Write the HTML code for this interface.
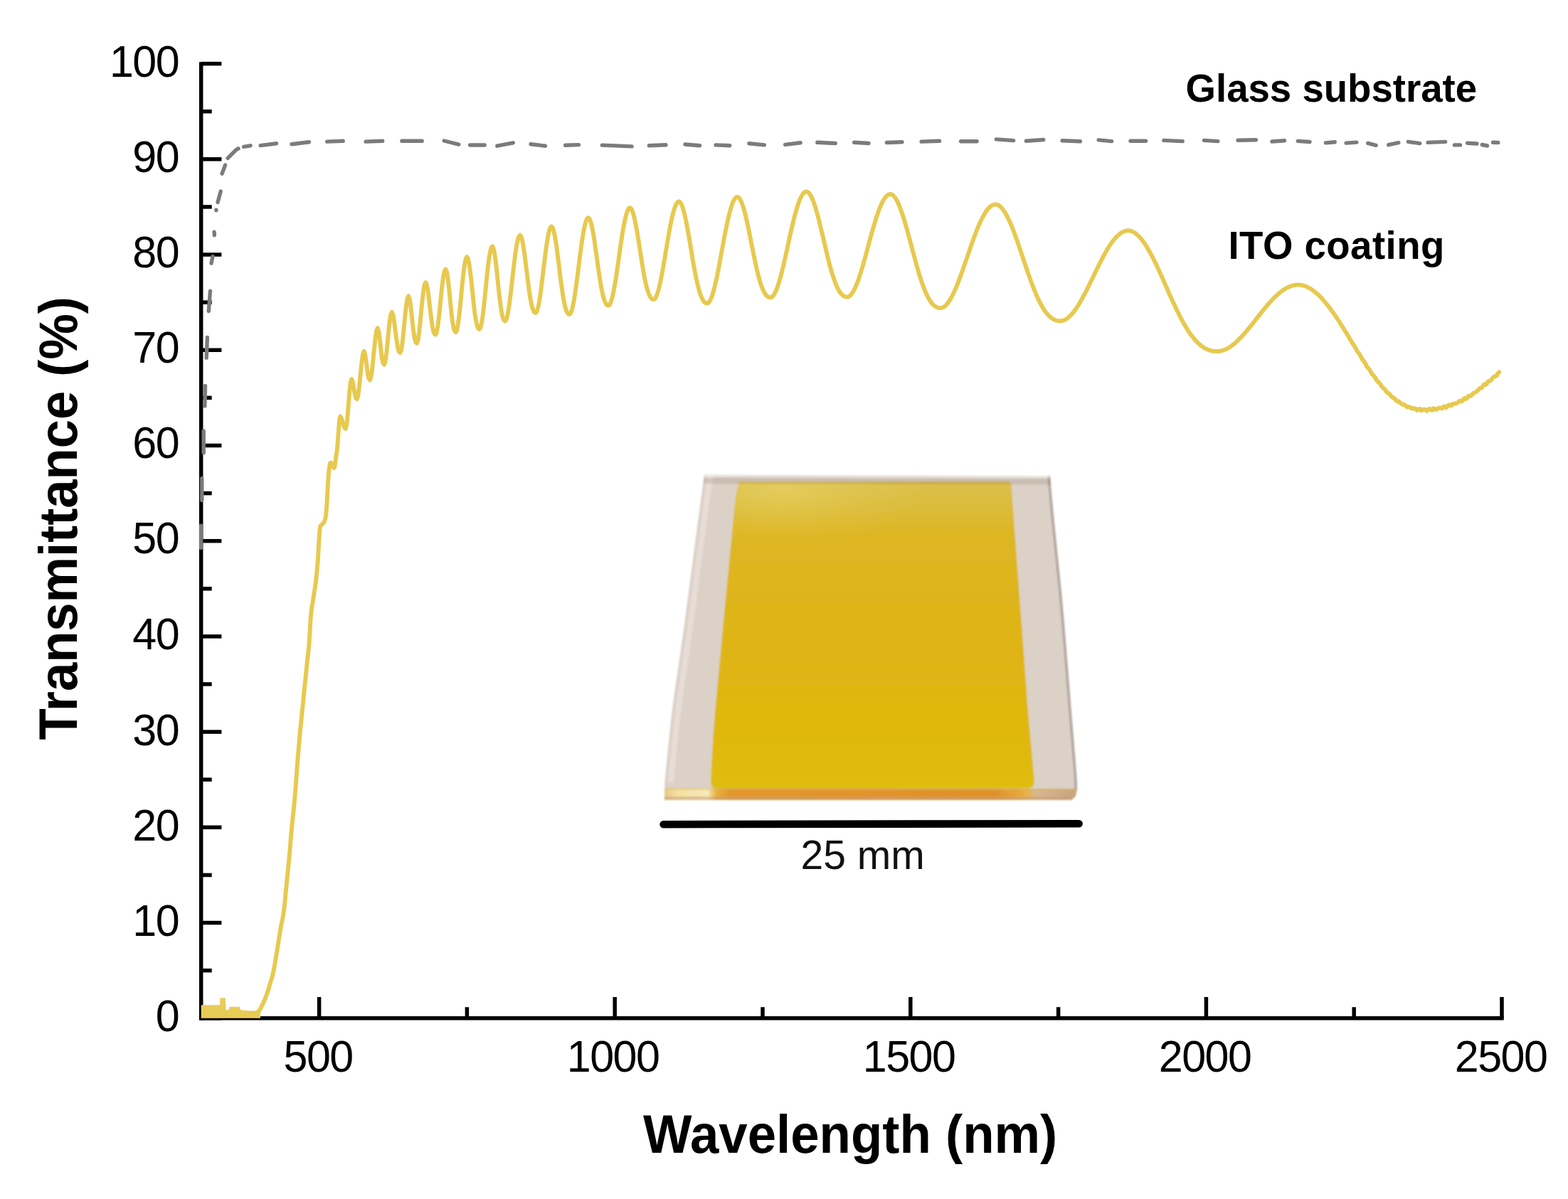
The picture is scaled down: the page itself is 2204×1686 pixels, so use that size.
<!DOCTYPE html>
<html><head><meta charset="utf-8"><style>
html,body{margin:0;padding:0;background:#fff;}
svg{display:block;}
text{font-family:"Liberation Sans",Arial,Helvetica,sans-serif;}
</style></head><body>
<svg width="2204" height="1686" viewBox="0 0 2204 1686">
<rect width="2204" height="1686" fill="#fff"/>

<defs>
 <filter id="soft" x="-5%" y="-5%" width="110%" height="110%"><feGaussianBlur stdDeviation="1.1"/></filter>
 <linearGradient id="yelV" x1="0" y1="682" x2="0" y2="1108" gradientUnits="userSpaceOnUse">
  <stop offset="0" stop-color="#dcc04c"/>
  <stop offset="0.05" stop-color="#dcbd40"/>
  <stop offset="0.16" stop-color="#deb624"/>
  <stop offset="0.5" stop-color="#dfb415"/>
  <stop offset="0.85" stop-color="#dfb80e"/>
  <stop offset="1" stop-color="#dfbd10"/>
 </linearGradient>
 <radialGradient id="glare" cx="1100" cy="690" r="200" gradientUnits="userSpaceOnUse" gradientTransform="translate(1100 690) scale(1 0.4) translate(-1100 -690)">
  <stop offset="0" stop-color="#f0e080" stop-opacity="0.35"/>
  <stop offset="0.6" stop-color="#f0e080" stop-opacity="0.1"/>
  <stop offset="1" stop-color="#f0e080" stop-opacity="0"/>
 </radialGradient>
 <linearGradient id="bot" x1="934" y1="0" x2="1514" y2="0" gradientUnits="userSpaceOnUse">
  <stop offset="0" stop-color="#e8c88a"/>
  <stop offset="0.03" stop-color="#f4e0a0"/>
  <stop offset="0.105" stop-color="#f6eab8"/>
  <stop offset="0.125" stop-color="#e8b040"/>
  <stop offset="0.16" stop-color="#e3962a"/>
  <stop offset="0.8" stop-color="#e19028"/>
  <stop offset="0.875" stop-color="#e8b040"/>
  <stop offset="0.9" stop-color="#d8b890"/>
  <stop offset="1" stop-color="#c9a27e"/>
 </linearGradient>
</defs>
<g filter="url(#soft)">
<polygon points="990.0,667.6 1476.6,669.4 1476.8,672.2 1477.0,675.7 1477.3,680.0 1477.7,685.4 1478.3,692.0 1479.0,700.0 1480.0,709.9 1481.1,721.7 1482.4,734.7 1483.8,748.4 1485.2,762.0 1486.5,775.0 1487.8,787.5 1489.0,800.0 1490.3,812.5 1491.6,825.0 1492.8,837.5 1494.0,850.0 1495.1,862.5 1496.2,875.0 1497.2,887.5 1498.3,900.0 1499.3,912.5 1500.3,925.0 1501.3,937.3 1502.3,949.4 1503.2,961.6 1504.2,973.9 1505.2,986.6 1506.3,1000.0 1507.5,1014.9 1508.9,1031.5 1510.3,1048.4 1511.6,1064.6 1512.8,1078.9 1513.6,1090.0 1514.1,1097.6 1514.3,1102.6 1514.4,1105.6 1514.4,1107.4 1514.3,1108.6 1514.3,1110.0 1511.5,1120.0 1506.0,1125.0 934.0,1125.0 933.8,1124.6 933.8,1122.0 933.9,1118.4 933.9,1114.2 934.0,1109.5 934.2,1104.7 934.4,1100.0 934.7,1095.8 935.0,1091.9 935.4,1087.8 935.9,1083.2 936.5,1077.4 937.3,1070.0 938.2,1060.7 939.3,1049.8 940.5,1037.8 941.8,1025.2 943.1,1012.4 944.6,1000.0 946.2,987.8 947.9,975.4 949.8,962.8 951.6,950.2 953.5,937.6 955.3,925.0 957.1,912.5 958.8,900.0 960.6,887.5 962.3,875.0 964.0,862.5 965.7,850.0 967.4,837.5 969.0,825.0 970.6,812.5 972.2,800.0 973.9,787.5 975.5,775.0 977.2,762.0 979.0,748.4 980.8,734.8 982.6,721.8 984.1,710.0 985.5,700.0 986.6,691.8 987.6,684.8 988.4,679.1 989.0,674.4 989.6,670.6 990.0,667.6" fill="#dbd1c7"/>
<polygon points="994.5,667.6 994.1,670.6 993.5,674.4 992.9,679.1 992.1,684.8 991.1,691.8 990.0,700.0 988.6,710.0 987.1,721.8 985.3,734.8 983.5,748.4 981.7,762.0 980.0,775.0 978.4,787.5 976.7,800.0 975.1,812.5 973.5,825.0 971.9,837.5 970.2,850.0 968.5,862.5 966.8,875.0 965.1,887.5 963.3,900.0 961.6,912.5 959.8,925.0 958.0,937.6 956.1,950.2 954.3,962.8 952.4,975.4 950.7,987.8 949.1,1000.0 947.6,1012.4 946.3,1025.2 945.0,1037.8 943.8,1049.8 942.7,1060.7 941.8,1070.0 941.0,1077.7 940.4,1084.1 939.9,1089.4 939.5,1093.7 939.2,1097.2 938.9,1100.0 946.9,1100.0 947.2,1097.2 947.5,1093.7 947.9,1089.4 948.4,1084.1 949.0,1077.7 949.8,1070.0 950.7,1060.7 951.8,1049.8 953.0,1037.8 954.3,1025.2 955.6,1012.4 957.1,1000.0 958.7,987.8 960.4,975.4 962.3,962.8 964.1,950.2 966.0,937.6 967.8,925.0 969.6,912.5 971.3,900.0 973.1,887.5 974.8,875.0 976.5,862.5 978.2,850.0 979.9,837.5 981.5,825.0 983.1,812.5 984.7,800.0 986.4,787.5 988.0,775.0 989.7,762.0 991.5,748.4 993.3,734.8 995.1,721.8 996.6,710.0 998.0,700.0 999.1,691.8 1000.1,684.8 1000.9,679.1 1001.5,674.4 1002.1,670.6 1002.5,667.6" fill="#e8ddd6"/>
<polygon points="1476.0,669.4 1476.2,672.2 1476.4,675.7 1476.7,680.0 1477.1,685.4 1477.7,692.0 1478.4,700.0 1479.4,709.9 1480.5,721.7 1481.8,734.7 1483.2,748.4 1484.6,762.0 1485.9,775.0 1487.2,787.5 1488.4,800.0 1489.7,812.5 1491.0,825.0 1492.2,837.5 1493.4,850.0 1494.5,862.5 1495.6,875.0 1496.6,887.5 1497.7,900.0 1498.7,912.5 1499.7,925.0 1500.7,937.3 1501.7,949.4 1502.6,961.6 1503.6,973.9 1504.6,986.6 1505.7,1000.0 1506.9,1014.9 1508.3,1031.5 1509.7,1048.4 1511.0,1064.6 1512.2,1078.9 1513.0,1090.0 1513.5,1097.6 1513.7,1102.6 1513.8,1105.6 1513.8,1107.4 1513.7,1108.6 1513.7,1110.0 1510.1,1110.0 1510.1,1108.6 1510.2,1107.4 1510.2,1105.6 1510.1,1102.6 1509.9,1097.6 1509.4,1090.0 1508.6,1078.9 1507.4,1064.6 1506.1,1048.4 1504.7,1031.5 1503.3,1014.9 1502.1,1000.0 1501.0,986.6 1500.0,973.9 1499.0,961.6 1498.1,949.4 1497.1,937.3 1496.1,925.0 1495.1,912.5 1494.1,900.0 1493.0,887.5 1492.0,875.0 1490.9,862.5 1489.8,850.0 1488.6,837.5 1487.4,825.0 1486.1,812.5 1484.8,800.0 1483.6,787.5 1482.3,775.0 1481.0,762.0 1479.6,748.4 1478.2,734.7 1476.9,721.7 1475.8,709.9 1474.8,700.0 1474.1,692.0 1473.5,685.4 1473.1,680.0 1472.8,675.7 1472.6,672.2 1472.4,669.4" fill="#b4a9a1"/>
<polygon points="1039.5,677.0 1418.5,677.0 1421.5,681.0 1422.0,688.0 1422.0,688.6 1422.0,688.8 1422.1,689.3 1422.2,690.9 1422.4,694.2 1422.8,700.0 1423.4,708.9 1424.3,720.3 1425.2,733.6 1426.3,747.7 1427.3,761.8 1428.3,775.0 1429.2,787.5 1430.2,800.0 1431.1,812.5 1432.0,825.0 1433.0,837.5 1433.9,850.0 1434.8,862.5 1435.7,875.0 1436.7,887.5 1437.6,900.0 1438.5,912.5 1439.4,925.0 1440.3,937.8 1441.3,950.9 1442.3,964.1 1443.2,976.9 1444.1,988.9 1445.0,1000.0 1445.8,1009.9 1446.6,1018.9 1447.4,1027.2 1448.1,1035.0 1448.8,1042.5 1449.5,1050.0 1450.2,1057.6 1450.9,1065.2 1451.6,1072.5 1452.2,1079.3 1452.8,1085.2 1453.2,1090.0 1453.5,1093.5 1453.7,1095.9 1453.7,1097.5 1453.8,1098.5 1453.8,1099.3 1453.8,1100.0 1452.0,1106.0 1446.0,1108.5 1006.0,1108.5 1000.5,1106.0 999.3,1100.0 999.3,1099.3 999.3,1098.5 999.2,1097.5 999.2,1095.9 999.3,1093.5 999.4,1090.0 999.6,1085.2 999.9,1079.3 1000.2,1072.5 1000.6,1065.2 1001.0,1057.6 1001.5,1050.0 1002.0,1042.5 1002.5,1035.0 1003.0,1027.2 1003.7,1018.9 1004.4,1009.9 1005.2,1000.0 1006.2,988.9 1007.3,976.9 1008.5,964.1 1009.7,950.9 1011.0,937.8 1012.2,925.0 1013.4,912.5 1014.5,900.0 1015.7,887.5 1016.8,875.0 1018.0,862.5 1019.2,850.0 1020.4,837.5 1021.6,825.0 1022.8,812.5 1024.1,800.0 1025.3,787.5 1026.5,775.0 1027.8,761.8 1029.1,747.7 1030.4,733.6 1031.7,720.3 1032.8,708.9 1033.8,700.0 1034.6,694.2 1035.2,690.9 1035.7,689.3 1036.0,688.8 1036.3,688.6 1036.6,688.0 1037.2,681.0" fill="url(#yelV)"/>
<polygon points="1039.5,677.0 1418.5,677.0 1421.5,681.0 1422.0,688.0 1422.0,688.6 1422.0,688.8 1422.1,689.3 1422.2,690.9 1422.4,694.2 1422.8,700.0 1423.4,708.9 1424.3,720.3 1425.2,733.6 1426.3,747.7 1427.3,761.8 1428.3,775.0 1429.2,787.5 1430.2,800.0 1431.1,812.5 1432.0,825.0 1433.0,837.5 1433.9,850.0 1434.8,862.5 1435.7,875.0 1436.7,887.5 1437.6,900.0 1438.5,912.5 1439.4,925.0 1440.3,937.8 1441.3,950.9 1442.3,964.1 1443.2,976.9 1444.1,988.9 1445.0,1000.0 1445.8,1009.9 1446.6,1018.9 1447.4,1027.2 1448.1,1035.0 1448.8,1042.5 1449.5,1050.0 1450.2,1057.6 1450.9,1065.2 1451.6,1072.5 1452.2,1079.3 1452.8,1085.2 1453.2,1090.0 1453.5,1093.5 1453.7,1095.9 1453.7,1097.5 1453.8,1098.5 1453.8,1099.3 1453.8,1100.0 1452.0,1106.0 1446.0,1108.5 1006.0,1108.5 1000.5,1106.0 999.3,1100.0 999.3,1099.3 999.3,1098.5 999.2,1097.5 999.2,1095.9 999.3,1093.5 999.4,1090.0 999.6,1085.2 999.9,1079.3 1000.2,1072.5 1000.6,1065.2 1001.0,1057.6 1001.5,1050.0 1002.0,1042.5 1002.5,1035.0 1003.0,1027.2 1003.7,1018.9 1004.4,1009.9 1005.2,1000.0 1006.2,988.9 1007.3,976.9 1008.5,964.1 1009.7,950.9 1011.0,937.8 1012.2,925.0 1013.4,912.5 1014.5,900.0 1015.7,887.5 1016.8,875.0 1018.0,862.5 1019.2,850.0 1020.4,837.5 1021.6,825.0 1022.8,812.5 1024.1,800.0 1025.3,787.5 1026.5,775.0 1027.8,761.8 1029.1,747.7 1030.4,733.6 1031.7,720.3 1032.8,708.9 1033.8,700.0 1034.6,694.2 1035.2,690.9 1035.7,689.3 1036.0,688.8 1036.3,688.6 1036.6,688.0 1037.2,681.0" fill="url(#glare)"/>
<polygon points="989.5,672 1476.9,673.5 1477.6,681.5 988.4,680.2" fill="#7a5a40" fill-opacity="0.16"/>
<polygon points="990,667.6 1476.6,669.4 1476.9,672.5 989.6,671" fill="#ffffff" fill-opacity="0.3"/>
<polygon points="935,1108 1514.3,1109 1511.5,1120 1506,1125 934,1125" fill="url(#bot)"/>
<polygon points="935,1108 1514.3,1109 1514,1111.5 935,1110.5" fill="#d8b860" fill-opacity="0.5"/>
<polygon points="934.5,1120 1511.5,1120 1506,1125 934,1125" fill="#c8a07a" fill-opacity="0.55"/>
</g>

<line x1="932.6" y1="1159.2" x2="1516.6" y2="1158.2" stroke="#000" stroke-width="10.6" stroke-linecap="round"/>
<g stroke="#000" stroke-width="5.5" stroke-linecap="butt" fill="none">
<line x1="282.7" y1="87.15" x2="282.7" y2="1434.55" /><line x1="279.95" y1="1431.8" x2="2113.75" y2="1431.8" /><line x1="282.70" y1="1431.80" x2="311.40" y2="1431.80" /><line x1="282.70" y1="1364.69" x2="297.70" y2="1364.69" /><line x1="282.70" y1="1297.58" x2="311.40" y2="1297.58" /><line x1="282.70" y1="1230.47" x2="297.70" y2="1230.47" /><line x1="282.70" y1="1163.36" x2="311.40" y2="1163.36" /><line x1="282.70" y1="1096.25" x2="297.70" y2="1096.25" /><line x1="282.70" y1="1029.14" x2="311.40" y2="1029.14" /><line x1="282.70" y1="962.03" x2="297.70" y2="962.03" /><line x1="282.70" y1="894.92" x2="311.40" y2="894.92" /><line x1="282.70" y1="827.81" x2="297.70" y2="827.81" /><line x1="282.70" y1="760.70" x2="311.40" y2="760.70" /><line x1="282.70" y1="693.59" x2="297.70" y2="693.59" /><line x1="282.70" y1="626.48" x2="311.40" y2="626.48" /><line x1="282.70" y1="559.37" x2="297.70" y2="559.37" /><line x1="282.70" y1="492.26" x2="311.40" y2="492.26" /><line x1="282.70" y1="425.15" x2="297.70" y2="425.15" /><line x1="282.70" y1="358.04" x2="311.40" y2="358.04" /><line x1="282.70" y1="290.93" x2="297.70" y2="290.93" /><line x1="282.70" y1="223.82" x2="311.40" y2="223.82" /><line x1="282.70" y1="156.71" x2="297.70" y2="156.71" /><line x1="282.70" y1="89.60" x2="311.40" y2="89.60" /><line x1="448.60" y1="1431.80" x2="448.60" y2="1402.00" /><line x1="656.40" y1="1431.80" x2="656.40" y2="1416.20" /><line x1="864.20" y1="1431.80" x2="864.20" y2="1402.00" /><line x1="1072.00" y1="1431.80" x2="1072.00" y2="1416.20" /><line x1="1279.80" y1="1431.80" x2="1279.80" y2="1402.00" /><line x1="1487.60" y1="1431.80" x2="1487.60" y2="1416.20" /><line x1="1695.40" y1="1431.80" x2="1695.40" y2="1402.00" /><line x1="1903.20" y1="1431.80" x2="1903.20" y2="1416.20" /><line x1="2111.00" y1="1431.80" x2="2111.00" y2="1402.00" />
</g>
<path d="M282.6,770.2L282.6,739.2M283.8,703.6L283.8,672.6M286.2,636.8L286.2,606.0M287.9,570.9L288.5,542.4M290.2,503.1L291.4,474.5M293.3,437.6L295.5,409.1M297.0,370.2L299.0,360.7M301.4,330.9L301.1,326.2M303.9,295.2L303.9,295.8M306.0,284.5L310.2,269.1M312.1,244.1L316.6,232.1M320.2,222.4L332.0,210.6L335.0,208.9M342.6,206.3L352.1,204.8M366.1,204.6L388.5,201.8M410.0,202.8L434.4,199.7M459.8,199.1L482.2,198.3M514.2,199.1L537.7,198.3M564.9,198.3L593.2,198.3M624.2,198.0L644.8,203.2M660.6,204.0L681.1,204.0M698.8,205.2L721.3,200.8M746.0,202.7L766.5,205.2M794.7,204.3L813.4,203.6M846.4,204.1L888.0,205.9M912.4,204.7L935.8,203.8M963.0,203.0L983.6,204.7M1006.1,203.9L1025.7,204.7M1052.9,201.7L1074.4,203.9M1103.6,203.4L1125.1,200.7M1148.8,200.3L1174.2,201.5M1200.5,200.3L1221.0,201.5M1246.4,200.5L1267.9,199.7M1295.2,199.1L1320.5,198.3M1350.6,198.7L1373.1,198.7M1400.3,195.9L1424.7,197.6M1442.4,198.2L1466.8,196.5M1493.1,197.7L1518.4,198.7M1544.1,196.9L1562.7,198.6M1589.0,198.3L1610.5,198.3M1635.9,197.4L1662.2,198.6M1692.3,197.4L1711.9,198.6M1740.1,197.3L1765.4,196.8M1787.9,199.0L1805.6,197.8M1824.2,198.4L1841.0,199.5M1863.4,200.9L1876.3,199.7M1892.1,201.1L1906.9,200.1M1922.7,201.4L1934.1,204.3M1951.7,203.7L1965.9,200.7M1979.4,199.3L1995.7,201.6M2007.1,200.4L2031.7,199.4M2044.5,203.9L2052.5,203.9M2062.5,201.2L2076.0,202.0M2083.2,203.5L2090.5,205.0M2098.5,200.2L2105.8,200.5" stroke="#7b7b7b" stroke-width="5.4" stroke-linecap="round" stroke-linejoin="round" fill="none"/>
<path d="M282.7,1431.8L282.7,1413.3L309,1413.3L309.5,1403.3L316.7,1403.3L317.5,1420L321.7,1420L322.5,1415.8L336.7,1415.8L338,1420L350,1421.5L363,1422.5L366,1420L366,1431.8Z" fill="#e8cc58"/>
<path d="M352.0,1424.5L352.9,1424.5L354.2,1424.5L355.7,1424.4L357.3,1424.4L358.8,1424.2L360.0,1424.0L361.0,1423.7L361.8,1423.3L362.5,1422.9L363.2,1422.4L363.8,1421.7L364.5,1421.0L365.1,1420.1L365.7,1419.2L366.3,1418.1L366.8,1416.9L367.4,1415.7L368.0,1414.5L368.6,1413.2L369.3,1411.9L370.0,1410.5L370.7,1409.0L371.3,1407.5L372.0,1406.0L372.6,1404.4L373.3,1402.9L373.9,1401.2L374.5,1399.5L375.1,1397.7L375.8,1395.8L376.5,1393.7L377.2,1391.5L377.9,1389.2L378.6,1386.8L379.3,1384.4L380.0,1382.0L380.7,1379.7L381.3,1377.7L382.0,1375.6L382.7,1373.2L383.4,1370.3L384.2,1366.7L385.1,1362.1L386.1,1356.7L387.1,1350.8L388.1,1344.7L389.1,1338.8L390.0,1333.3L390.8,1328.2L391.6,1323.3L392.3,1318.6L393.0,1313.9L393.8,1309.4L394.5,1305.0L395.3,1300.9L396.0,1297.0L396.8,1293.3L397.6,1289.5L398.3,1285.4L399.0,1280.7L399.7,1275.4L400.3,1269.6L400.9,1263.6L401.4,1257.3L402.0,1251.1L402.6,1245.0L403.2,1239.1L403.8,1233.3L404.4,1227.5L405.0,1221.6L405.6,1215.6L406.2,1209.3L406.8,1202.8L407.4,1196.1L407.9,1189.2L408.5,1182.2L409.1,1175.0L409.8,1167.6L410.5,1160.0L411.3,1152.2L412.2,1144.1L413.0,1136.0L413.8,1128.0L414.5,1120.0L415.2,1112.0L415.8,1103.8L416.4,1095.7L417.0,1087.7L417.5,1080.1L418.1,1072.9L418.6,1066.3L419.1,1060.1L419.6,1054.3L420.1,1048.6L420.6,1042.9L421.1,1037.1L421.6,1031.2L422.2,1025.4L422.8,1019.6L423.4,1013.7L424.0,1007.7L424.6,1001.4L425.3,994.7L426.0,987.7L426.7,980.5L427.4,973.4L428.1,966.4L428.8,959.8L429.5,953.4L430.1,947.1L430.7,941.0L431.3,935.3L431.9,929.9L432.4,925.0L432.8,921.0L433.2,918.0L433.5,915.4L433.8,912.7L434.1,909.4L434.5,905.0L434.9,899.2L435.3,892.4L435.7,885.0L436.1,877.5L436.6,870.4L437.1,864.3L437.6,859.2L438.2,854.8L438.8,850.8L439.5,847.0L440.1,843.2L440.7,839.3L441.3,835.3L441.9,831.4L442.6,827.5L443.2,823.6L443.8,819.4L444.3,815.0L444.8,810.3L445.3,805.5L445.7,800.5L446.1,795.2L446.6,789.8L447.0,784.0L447.4,777.5L447.8,770.1L448.2,762.5L448.7,755.2L449.1,748.9L449.6,744.0L450.1,740.9L450.7,739.1L451.4,738.3L452.0,738.0L452.6,737.7L453.2,737.0L453.8,736.1L454.4,735.5L454.9,734.8L455.5,734.1L456.0,733.2L456.5,732.0L456.9,730.6L457.3,729.3L457.6,727.8L457.9,725.8L458.3,723.2L458.6,719.6L459.0,714.7L459.4,708.5L459.8,701.7L460.1,694.8L460.5,688.3L460.8,683.0L461.1,678.8L461.3,675.2L461.5,672.2L461.6,669.4L461.8,666.9L462.1,664.3L462.4,661.6L462.7,659.0L463.1,656.5L463.4,654.3L463.8,652.5L464.2,651.3L464.6,650.7L465.1,650.7L465.5,651.1L466.0,651.7L466.5,652.4L467.0,653.0L467.5,653.8L468.0,655.1L468.5,656.5L469.0,657.5L469.5,658.0L470.0,657.5L470.5,655.7L471.0,652.6L471.4,649.0L471.9,645.4L472.2,642.2L472.5,640.0L473.5,635.9L474.4,625.5L475.4,611.9L476.4,598.5L477.3,589.0L478.3,585.5L479.6,587.1L480.8,590.9L482.1,595.7L483.3,599.7L484.6,602.1L485.8,602.8L487.2,597.6L488.6,584.3L490.0,566.7L491.4,549.7L492.8,537.4L494.2,533.0L495.4,535.5L496.7,541.8L497.9,549.6L499.2,556.2L500.4,560.1L501.7,561.2L503.4,556.2L505.0,543.3L506.7,526.4L508.4,509.9L510.0,498.1L511.7,493.8L513.1,497.5L514.5,506.5L515.9,517.7L517.2,527.3L518.6,532.9L520.0,534.5L521.5,530.4L523.1,519.7L524.6,504.8L526.2,488.7L527.7,474.4L529.3,464.7L530.8,461.3L532.3,465.9L533.9,477.4L535.4,491.6L536.9,503.6L538.5,510.8L540.0,512.8L541.5,508.7L543.1,497.9L544.6,482.8L546.2,466.5L547.7,452.1L549.3,442.3L550.8,438.8L552.5,442.7L554.1,452.6L555.8,465.8L557.5,478.8L559.2,488.9L560.8,494.6L562.5,496.2L564.2,491.8L565.8,480.1L567.5,463.8L569.2,446.2L570.9,430.6L572.5,420.0L574.2,416.3L575.9,420.8L577.5,432.3L579.2,447.5L580.8,462.7L582.5,474.3L584.1,481.0L585.8,482.8L587.4,479.1L588.9,469.2L590.5,454.9L592.0,438.5L593.6,422.5L595.2,409.0L596.7,400.2L598.3,397.1L599.8,400.2L601.4,408.4L602.9,420.2L604.4,433.6L606.0,446.7L607.5,457.6L609.0,465.3L610.6,469.5L612.1,470.7L613.7,467.5L615.3,459.0L616.9,446.3L618.5,431.1L620.0,415.2L621.6,400.6L623.2,388.8L624.8,381.2L626.4,378.6L628.0,382.3L629.6,392.2L631.2,406.3L632.8,422.5L634.3,438.2L635.9,451.4L637.5,460.6L639.1,465.7L640.7,467.1L642.3,464.1L643.8,456.0L645.4,443.7L647.0,428.7L648.5,412.4L650.1,396.3L651.7,381.9L653.3,370.7L654.8,363.5L656.4,361.1L658.0,364.0L659.6,371.9L661.2,383.6L662.8,398.0L664.4,413.3L665.9,428.2L667.5,441.1L669.1,451.2L670.7,458.1L672.3,461.9L673.9,462.9L675.4,460.6L676.9,454.2L678.5,444.4L680.0,432.0L681.5,417.8L683.0,402.7L684.5,387.9L686.0,374.2L687.5,362.6L689.1,353.8L690.6,348.3L692.1,346.4L693.7,349.4L695.4,357.5L697.0,369.6L698.6,384.4L700.2,400.3L701.9,415.6L703.5,428.9L705.1,439.3L706.7,446.5L708.4,450.3L710.0,451.4L711.5,449.6L713.0,444.7L714.5,437.0L716.0,427.0L717.5,415.3L719.0,402.4L720.5,389.1L722.0,375.8L723.5,363.4L725.0,352.4L726.5,343.2L728.0,336.4L729.5,332.1L731.0,330.7L732.6,332.7L734.1,338.1L735.7,346.4L737.3,357.0L738.8,369.1L740.4,382.1L742.0,394.9L743.5,406.9L745.1,417.5L746.6,426.1L748.2,432.6L749.8,437.0L751.3,439.4L752.9,440.0L754.5,438.2L756.1,433.2L757.7,425.5L759.3,415.5L760.9,403.6L762.5,390.7L764.1,377.2L765.7,363.9L767.3,351.4L768.9,340.2L770.5,331.0L772.1,324.1L773.7,319.8L775.3,318.4L776.9,320.2L778.4,324.9L780.0,332.3L781.6,341.8L783.1,353.1L784.7,365.5L786.3,378.4L787.8,391.1L789.4,403.0L791.0,413.8L792.6,423.0L794.1,430.4L795.7,435.9L797.3,439.6L798.8,441.6L800.4,442.1L802.0,440.7L803.5,436.9L805.1,430.8L806.7,422.8L808.2,413.2L809.8,402.2L811.4,390.4L812.9,378.1L814.5,365.7L816.0,353.6L817.6,342.2L819.2,331.9L820.7,323.0L822.3,315.8L823.9,310.4L825.4,307.2L827.0,306.1L828.6,307.5L830.1,311.3L831.7,317.2L833.3,325.0L834.9,334.4L836.4,344.8L838.0,356.0L839.6,367.4L841.1,378.7L842.7,389.4L844.3,399.2L845.9,407.7L847.4,414.9L849.0,420.7L850.6,424.9L852.2,427.8L853.7,429.3L855.3,429.7L856.8,428.7L858.3,425.8L859.8,421.3L861.3,415.3L862.8,407.9L864.4,399.4L865.9,390.0L867.4,379.9L868.9,369.3L870.4,358.6L871.9,348.0L873.4,337.7L874.9,328.0L876.4,319.2L878.0,311.3L879.5,304.6L881.0,299.2L882.5,295.3L884.0,292.9L885.5,292.1L887.0,293.1L888.5,295.8L890.0,300.1L891.5,305.8L893.0,312.7L894.6,320.7L896.1,329.5L897.6,338.8L899.1,348.6L900.6,358.3L902.1,367.9L903.6,377.1L905.1,385.7L906.6,393.5L908.1,400.4L909.6,406.4L911.2,411.3L912.7,415.2L914.2,418.0L915.7,419.9L917.2,420.9L918.7,421.2L920.2,420.4L921.8,418.2L923.3,414.8L924.9,410.1L926.4,404.3L928.0,397.6L929.5,390.0L931.1,381.8L932.6,373.0L934.2,363.9L935.7,354.6L937.3,345.3L938.8,336.2L940.4,327.3L941.9,318.9L943.5,311.2L945.0,304.1L946.6,298.0L948.1,292.8L949.7,288.7L951.2,285.7L952.8,283.9L954.3,283.3L955.8,284.1L957.4,286.3L958.9,289.8L960.4,294.4L961.9,300.1L963.5,306.8L965.0,314.3L966.5,322.4L968.0,331.1L969.6,340.1L971.1,349.3L972.6,358.4L974.1,367.4L975.7,376.1L977.2,384.3L978.7,391.9L980.3,398.9L981.8,405.1L983.3,410.5L984.8,415.1L986.4,418.9L987.9,421.9L989.4,424.1L990.9,425.5L992.5,426.3L994.0,426.5L995.5,425.9L997.0,424.3L998.6,421.7L1000.1,418.2L1001.6,413.8L1003.1,408.7L1004.6,402.8L1006.1,396.3L1007.7,389.3L1009.2,381.8L1010.7,373.9L1012.2,365.8L1013.7,357.5L1015.2,349.2L1016.8,341.0L1018.3,332.8L1019.8,325.0L1021.3,317.4L1022.8,310.3L1024.4,303.7L1025.9,297.7L1027.4,292.4L1028.9,287.8L1030.4,283.9L1031.9,280.9L1033.5,278.7L1035.0,277.3L1036.5,276.9L1038.0,277.5L1039.5,279.0L1041.0,281.5L1042.5,284.8L1044.0,288.9L1045.5,293.7L1047.0,299.2L1048.5,305.3L1050.0,311.8L1051.5,318.8L1053.0,326.1L1054.5,333.6L1056.0,341.2L1057.5,348.8L1059.0,356.3L1060.5,363.6L1062.0,370.7L1063.5,377.4L1065.0,383.7L1066.5,389.5L1068.0,394.9L1069.5,399.7L1071.0,403.9L1072.5,407.6L1074.0,410.7L1075.5,413.2L1077.0,415.2L1078.5,416.7L1080.0,417.6L1081.5,418.2L1083.0,418.3L1084.5,417.9L1086.1,416.7L1087.6,414.8L1089.1,412.3L1090.7,409.1L1092.2,405.2L1093.7,400.9L1095.2,396.0L1096.8,390.7L1098.3,384.9L1099.8,378.8L1101.4,372.4L1102.9,365.7L1104.4,358.9L1106.0,351.9L1107.5,344.9L1109.0,337.9L1110.5,330.9L1112.1,324.1L1113.6,317.5L1115.1,311.1L1116.7,305.0L1118.2,299.2L1119.7,293.9L1121.3,289.0L1122.8,284.5L1124.3,280.6L1125.8,277.2L1127.4,274.4L1128.9,272.2L1130.4,270.7L1132.0,269.7L1133.5,269.4L1135.0,269.8L1136.5,270.9L1138.0,272.7L1139.5,275.1L1141.1,278.0L1142.6,281.5L1144.1,285.5L1145.6,290.0L1147.1,294.9L1148.6,300.2L1150.1,305.8L1151.6,311.7L1153.1,317.9L1154.6,324.2L1156.2,330.7L1157.7,337.2L1159.2,343.7L1160.7,350.1L1162.2,356.5L1163.7,362.7L1165.2,368.6L1166.7,374.4L1168.2,379.8L1169.8,384.9L1171.3,389.7L1172.8,394.2L1174.3,398.2L1175.8,401.9L1177.3,405.1L1178.8,408.0L1180.3,410.5L1181.8,412.5L1183.3,414.2L1184.9,415.5L1186.4,416.5L1187.9,417.2L1189.4,417.5L1190.9,417.6L1192.4,417.3L1193.9,416.5L1195.4,415.3L1197.0,413.5L1198.5,411.4L1200.0,408.8L1201.5,405.8L1203.0,402.4L1204.5,398.7L1206.1,394.7L1207.6,390.4L1209.1,385.7L1210.6,380.9L1212.1,375.8L1213.6,370.6L1215.1,365.2L1216.7,359.7L1218.2,354.2L1219.7,348.5L1221.2,342.9L1222.7,337.3L1224.2,331.8L1225.7,326.3L1227.3,321.0L1228.8,315.8L1230.3,310.8L1231.8,306.0L1233.3,301.4L1234.8,297.1L1236.3,293.1L1237.9,289.5L1239.4,286.1L1240.9,283.1L1242.4,280.5L1243.9,278.2L1245.4,276.3L1247.0,274.9L1248.5,273.8L1250.0,273.2L1251.5,273.0L1253.0,273.3L1254.5,274.1L1256.0,275.4L1257.5,277.1L1259.0,279.2L1260.5,281.8L1262.0,284.7L1263.5,288.0L1265.0,291.7L1266.5,295.7L1268.0,299.9L1269.5,304.5L1271.0,309.3L1272.5,314.4L1274.0,319.6L1275.5,325.0L1277.0,330.5L1278.5,336.1L1280.0,341.7L1281.5,347.4L1283.0,353.1L1284.5,358.7L1286.0,364.3L1287.5,369.8L1289.0,375.1L1290.5,380.3L1292.0,385.4L1293.5,390.2L1295.0,394.8L1296.5,399.2L1298.0,403.3L1299.5,407.2L1301.0,410.8L1302.5,414.1L1304.0,417.2L1305.5,420.0L1307.0,422.5L1308.5,424.7L1310.0,426.6L1311.5,428.3L1313.0,429.7L1314.5,430.8L1316.0,431.7L1317.5,432.4L1319.0,432.8L1320.5,433.0L1322.0,433.1L1323.5,432.9L1325.0,432.4L1326.6,431.6L1328.1,430.5L1329.6,429.2L1331.1,427.5L1332.6,425.6L1334.1,423.4L1335.7,421.0L1337.2,418.4L1338.7,415.5L1340.2,412.4L1341.7,409.2L1343.2,405.7L1344.8,402.1L1346.3,398.3L1347.8,394.4L1349.3,390.4L1350.8,386.3L1352.4,382.0L1353.9,377.7L1355.4,373.4L1356.9,369.0L1358.4,364.5L1359.9,360.1L1361.5,355.6L1363.0,351.2L1364.5,346.8L1366.0,342.5L1367.5,338.2L1369.0,334.1L1370.6,330.0L1372.1,326.0L1373.6,322.2L1375.1,318.5L1376.6,315.0L1378.2,311.6L1379.7,308.5L1381.2,305.5L1382.7,302.7L1384.2,300.1L1385.7,297.7L1387.3,295.6L1388.8,293.7L1390.3,292.0L1391.8,290.6L1393.3,289.5L1394.8,288.6L1396.4,287.9L1397.9,287.5L1399.4,287.4L1400.9,287.6L1402.4,288.1L1404.0,288.9L1405.5,290.0L1407.0,291.4L1408.5,293.1L1410.0,295.0L1411.5,297.1L1413.1,299.5L1414.6,302.2L1416.1,305.0L1417.6,308.1L1419.1,311.4L1420.7,314.8L1422.2,318.5L1423.7,322.3L1425.2,326.2L1426.7,330.3L1428.2,334.4L1429.8,338.7L1431.3,343.1L1432.8,347.6L1434.3,352.1L1435.8,356.6L1437.4,361.2L1438.9,365.7L1440.4,370.3L1441.9,374.8L1443.4,379.3L1445.0,383.7L1446.5,388.0L1448.0,392.3L1449.5,396.5L1451.0,400.6L1452.5,404.5L1454.1,408.3L1455.6,412.0L1457.1,415.6L1458.6,418.9L1460.1,422.2L1461.7,425.2L1463.2,428.1L1464.7,430.8L1466.2,433.4L1467.7,435.8L1469.2,438.0L1470.8,440.0L1472.3,441.8L1473.8,443.5L1475.3,445.0L1476.8,446.3L1478.4,447.4L1479.9,448.4L1481.4,449.3L1482.9,449.9L1484.4,450.5L1485.9,450.9L1487.5,451.1L1489.0,451.3L1490.5,451.3L1492.0,451.2L1493.5,450.9L1495.0,450.4L1496.6,449.8L1498.1,449.0L1499.6,448.1L1501.1,446.9L1502.6,445.7L1504.1,444.2L1505.7,442.7L1507.2,441.0L1508.7,439.1L1510.2,437.2L1511.7,435.1L1513.2,432.9L1514.8,430.6L1516.3,428.2L1517.8,425.6L1519.3,423.0L1520.8,420.3L1522.3,417.6L1523.8,414.7L1525.4,411.8L1526.9,408.9L1528.4,405.9L1529.9,402.8L1531.4,399.7L1532.9,396.6L1534.5,393.5L1536.0,390.4L1537.5,387.2L1539.0,384.1L1540.5,381.0L1542.0,377.9L1543.6,374.8L1545.1,371.7L1546.6,368.7L1548.1,365.8L1549.6,362.9L1551.1,360.0L1552.7,357.3L1554.2,354.6L1555.7,352.0L1557.2,349.4L1558.7,347.0L1560.2,344.7L1561.7,342.4L1563.3,340.3L1564.8,338.3L1566.3,336.4L1567.8,334.7L1569.3,333.0L1570.8,331.5L1572.4,330.2L1573.9,328.9L1575.4,327.8L1576.9,326.9L1578.4,326.1L1579.9,325.4L1581.5,324.9L1583.0,324.5L1584.5,324.3L1586.0,324.2L1587.5,324.3L1589.0,324.6L1590.5,325.1L1592.0,325.7L1593.5,326.5L1595.0,327.4L1596.5,328.5L1598.0,329.7L1599.6,331.0L1601.1,332.5L1602.6,334.2L1604.1,335.9L1605.6,337.8L1607.1,339.9L1608.6,342.0L1610.1,344.2L1611.6,346.6L1613.1,349.1L1614.6,351.7L1616.1,354.3L1617.6,357.1L1619.1,359.9L1620.6,362.8L1622.1,365.8L1623.7,368.9L1625.2,372.0L1626.7,375.2L1628.2,378.5L1629.7,381.8L1631.2,385.1L1632.7,388.4L1634.2,391.8L1635.7,395.2L1637.2,398.6L1638.7,402.0L1640.2,405.4L1641.7,408.9L1643.2,412.3L1644.7,415.6L1646.2,419.0L1647.7,422.3L1649.3,425.6L1650.8,428.8L1652.3,432.0L1653.8,435.2L1655.3,438.3L1656.8,441.3L1658.3,444.3L1659.8,447.2L1661.3,450.0L1662.8,452.8L1664.3,455.5L1665.8,458.1L1667.3,460.6L1668.8,463.0L1670.3,465.4L1671.8,467.6L1673.3,469.8L1674.9,471.8L1676.4,473.8L1677.9,475.7L1679.4,477.5L1680.9,479.2L1682.4,480.7L1683.9,482.2L1685.4,483.6L1686.9,484.9L1688.4,486.1L1689.9,487.3L1691.4,488.3L1692.9,489.2L1694.4,490.1L1695.9,490.8L1697.4,491.5L1699.0,492.1L1700.5,492.6L1702.0,493.0L1703.5,493.3L1705.0,493.6L1706.5,493.8L1708.0,493.9L1709.5,494.0L1711.0,494.0L1712.5,493.9L1714.0,493.8L1715.5,493.6L1717.0,493.2L1718.5,492.8L1720.0,492.3L1721.5,491.8L1723.0,491.1L1724.5,490.4L1726.0,489.6L1727.5,488.7L1729.0,487.7L1730.5,486.7L1732.0,485.6L1733.5,484.4L1735.0,483.2L1736.5,481.9L1738.0,480.6L1739.5,479.2L1741.0,477.7L1742.5,476.2L1744.0,474.7L1745.5,473.1L1747.0,471.4L1748.5,469.8L1750.0,468.0L1751.5,466.3L1753.0,464.5L1754.5,462.7L1756.0,460.9L1757.5,459.0L1759.0,457.1L1760.5,455.3L1762.0,453.4L1763.5,451.5L1765.0,449.5L1766.5,447.6L1768.0,445.7L1769.5,443.8L1771.0,441.9L1772.5,440.0L1774.0,438.1L1775.5,436.3L1777.0,434.4L1778.5,432.6L1780.0,430.8L1781.5,429.0L1783.0,427.3L1784.5,425.6L1786.0,423.9L1787.5,422.3L1789.0,420.7L1790.5,419.2L1792.0,417.7L1793.5,416.3L1795.0,414.9L1796.5,413.5L1798.0,412.2L1799.5,411.0L1801.0,409.9L1802.5,408.8L1804.0,407.7L1805.5,406.7L1807.0,405.8L1808.5,405.0L1810.0,404.2L1811.5,403.5L1813.0,402.9L1814.5,402.3L1816.0,401.8L1817.5,401.4L1819.0,401.1L1820.5,400.8L1822.0,400.7L1823.5,400.5L1825.0,400.5L1826.5,400.6L1828.0,400.7L1829.5,400.9L1831.0,401.3L1832.5,401.7L1834.0,402.2L1835.5,402.7L1837.0,403.4L1838.5,404.1L1840.0,404.9L1841.5,405.7L1843.0,406.7L1844.5,407.7L1846.0,408.8L1847.5,409.9L1849.0,411.1L1850.5,412.4L1852.0,413.7L1853.5,415.1L1855.0,416.6L1856.5,418.1L1858.0,419.7L1859.5,421.4L1861.0,423.1L1862.5,424.8L1864.0,426.6L1865.5,428.5L1867.0,430.4L1868.5,432.3L1870.0,434.3L1871.5,436.4L1873.0,438.5L1874.5,440.6L1876.0,442.7L1877.5,444.9L1879.0,447.2L1880.5,449.4L1882.0,451.7L1883.5,454.0L1885.0,456.4L1886.5,458.7L1888.0,461.1L1889.5,463.5L1891.0,466.0L1892.5,468.4L1894.0,470.8L1895.5,473.3L1897.0,475.7L1898.5,478.2L1900.0,480.8L1901.5,483.9L1903.0,485.0L1904.5,487.9L1906.0,490.3L1907.5,493.7L1909.0,495.5L1910.5,497.4L1912.0,500.0L1913.5,502.7L1915.0,505.8L1916.5,507.0L1918.0,509.5L1919.5,511.5L1921.0,515.1L1922.5,516.8L1924.0,518.6L1925.5,520.5L1927.0,523.1L1928.5,526.1L1930.0,527.3L1931.5,529.3L1933.0,530.8L1934.5,534.1L1936.0,535.7L1937.5,537.5L1939.0,538.5L1940.5,540.9L1942.0,543.4L1943.5,544.7L1945.0,546.2L1946.5,547.1L1948.0,550.0L1949.5,551.3L1951.0,553.0L1952.5,553.3L1954.0,555.2L1955.5,557.1L1957.0,558.6L1958.5,559.5L1960.0,559.8L1961.5,562.0L1963.0,563.1L1964.5,564.7L1966.0,564.4L1967.5,565.8L1969.0,566.9L1970.5,568.5L1972.0,568.8L1973.5,568.8L1975.0,570.1L1976.5,571.0L1978.0,572.4L1979.5,571.7L1981.0,572.5L1982.5,572.9L1984.0,574.4L1985.5,574.6L1987.0,573.9L1988.5,574.3L1990.0,575.1L1991.5,577.0L1993.0,575.3L1994.5,575.6L1996.0,575.0L1997.5,577.3L1999.0,576.8L2000.5,576.2L2002.0,575.5L2003.5,576.1L2004.4,576.5L2005.5,577.8L2006.8,575.9L2008.2,575.9L2009.8,574.8L2011.4,576.6L2013.2,576.7L2015.0,574.2L2016.8,574.9L2018.6,576.1L2020.4,574.7L2022.1,574.1L2023.8,573.4L2025.5,573.9L2027.3,574.4L2029.1,571.7L2031.0,571.4L2032.8,573.2L2034.6,571.3L2036.5,569.2L2038.4,570.3L2040.2,570.2L2042.1,568.1L2043.9,567.4L2045.7,567.4L2047.5,566.8L2049.4,565.8L2051.2,563.9L2053.0,563.8L2054.8,564.3L2056.7,561.6L2058.5,559.8L2060.3,561.3L2062.1,559.8L2064.0,556.7L2065.8,556.8L2067.6,556.7L2069.5,554.3L2071.3,552.7L2073.2,551.8L2075.0,550.8L2076.9,549.4L2078.7,547.0L2080.6,545.7L2082.4,545.9L2084.2,543.4L2086.0,540.4L2087.7,541.2L2089.5,540.1L2091.3,536.7L2093.2,535.6L2095.1,535.4L2097.0,533.0L2098.9,530.7L2100.6,529.6L2102.3,528.5L2103.8,528.5L2105.2,525.1L2106.4,524.6L2107.3,523.2" stroke="#e7c94f" stroke-width="5.9" stroke-linejoin="round" stroke-linecap="round" fill="none"/>
<text id="y0" transform="translate(251.20,1449.90) scale(1,1.045)" font-size="61" font-weight="normal" text-anchor="end" letter-spacing="-1.5" fill="#000">0</text><text id="y10" transform="translate(251.20,1315.80) scale(1,1.045)" font-size="61" font-weight="normal" text-anchor="end" letter-spacing="-1.5" fill="#000">10</text><text id="y20" transform="translate(251.20,1181.70) scale(1,1.045)" font-size="61" font-weight="normal" text-anchor="end" letter-spacing="-1.5" fill="#000">20</text><text id="y30" transform="translate(251.20,1047.60) scale(1,1.045)" font-size="61" font-weight="normal" text-anchor="end" letter-spacing="-1.5" fill="#000">30</text><text id="y40" transform="translate(251.20,912.50) scale(1,1.045)" font-size="61" font-weight="normal" text-anchor="end" letter-spacing="-1.5" fill="#000">40</text><text id="y50" transform="translate(251.20,778.40) scale(1,1.045)" font-size="61" font-weight="normal" text-anchor="end" letter-spacing="-1.5" fill="#000">50</text><text id="y60" transform="translate(251.20,644.30) scale(1,1.045)" font-size="61" font-weight="normal" text-anchor="end" letter-spacing="-1.5" fill="#000">60</text><text id="y70" transform="translate(251.20,510.20) scale(1,1.045)" font-size="61" font-weight="normal" text-anchor="end" letter-spacing="-1.5" fill="#000">70</text><text id="y80" transform="translate(251.20,376.10) scale(1,1.045)" font-size="61" font-weight="normal" text-anchor="end" letter-spacing="-1.5" fill="#000">80</text><text id="y90" transform="translate(251.20,242.00) scale(1,1.045)" font-size="61" font-weight="normal" text-anchor="end" letter-spacing="-1.5" fill="#000">90</text><text id="y100" transform="translate(251.20,107.90) scale(1,1.045)" font-size="61" font-weight="normal" text-anchor="end" letter-spacing="-1.5" fill="#000">100</text><text id="x500" transform="translate(447.10,1507.00) scale(1,1.045)" font-size="61" font-weight="normal" text-anchor="middle" letter-spacing="-1.5" fill="#000">500</text><text id="x1000" transform="translate(861.60,1507.00) scale(1,1.045)" font-size="61" font-weight="normal" text-anchor="middle" letter-spacing="-1.5" fill="#000">1000</text><text id="x1500" transform="translate(1277.60,1507.00) scale(1,1.045)" font-size="61" font-weight="normal" text-anchor="middle" letter-spacing="-1.5" fill="#000">1500</text><text id="x2000" transform="translate(1693.60,1507.00) scale(1,1.045)" font-size="61" font-weight="normal" text-anchor="middle" letter-spacing="-1.5" fill="#000">2000</text><text id="x2500" transform="translate(2109.60,1507.00) scale(1,1.045)" font-size="61" font-weight="normal" text-anchor="middle" letter-spacing="-1.5" fill="#000">2500</text><text id="xt" transform="translate(904.10,1620.50) scale(1,1.035)" font-size="72.6" font-weight="bold" text-anchor="start" fill="#000">Wavelength (nm)</text><text id="yt" transform="translate(107.60,1040.50) rotate(-90) scale(1,1.038)" font-size="72.4" font-weight="bold" text-anchor="start" fill="#000">Transmittance (%)</text><text id="gs" transform="translate(1666.50,143.20) scale(1,1.0)" font-size="54.6" font-weight="bold" text-anchor="start" fill="#000">Glass substrate</text><text id="ito" transform="translate(1726.50,363.80) scale(1,1.0)" font-size="54.6" font-weight="bold" text-anchor="start" letter-spacing="0.45" fill="#000">ITO coating</text><text id="mm" transform="translate(1125.50,1222.30) scale(1,1.0)" font-size="57" font-weight="normal" text-anchor="start" fill="#111">25 mm</text>
</svg>
</body></html>
